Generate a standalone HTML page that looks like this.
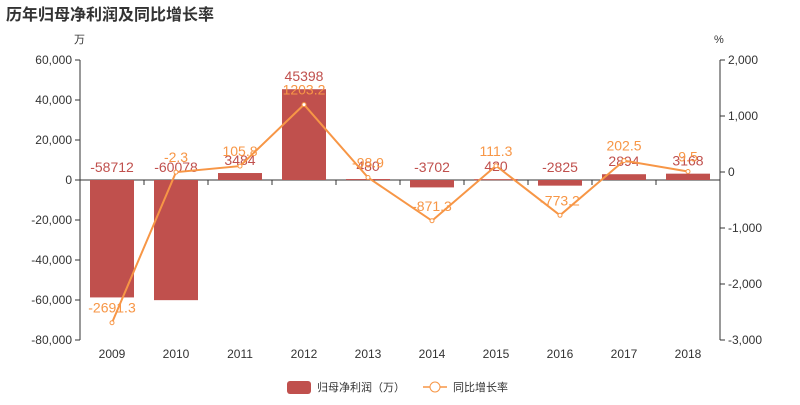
<!DOCTYPE html>
<html><head><meta charset="utf-8"><style>
body{margin:0;background:#fff;font-family:"Liberation Sans","Noto Sans CJK SC",sans-serif}
svg text{font-family:"Liberation Sans","Noto Sans CJK SC",sans-serif}
</style></head><body>
<svg id="c" width="800" height="400" xmlns="http://www.w3.org/2000/svg">
<text x="6" y="20" font-size="16" font-weight="bold" fill="#333">历年归母净利润及同比增长率</text>
<text x="74" y="43" font-size="11" fill="#333">万</text>
<text x="714" y="43" font-size="11" fill="#333">%</text>
<g id="g"></g>
<g>
<rect x="287" y="381" width="24" height="13" rx="3" fill="#c0504d"/>
<text x="317" y="391" font-size="11" fill="#333">归母净利润（万）</text>
<line x1="423" y1="387" x2="447" y2="387" stroke="#f79646" stroke-width="1.5"/>
<circle cx="435" cy="387" r="5" fill="#fff" stroke="#f79646"/>
<text x="453" y="391" font-size="11" fill="#333">同比增长率</text>
</g>
</svg>
<script>
const categories=["2009","2010","2011","2012","2013","2014","2015","2016","2017","2018"];
const profit=[-58712,-60078,3484,45398,480,-3702,420,-2825,2894,3168];
const growth=[-2691.3,-2.3,105.8,1203.2,-98.9,-871.3,111.3,-773.2,202.5,9.5];
const leftTicks=[60000,40000,20000,0,-20000,-40000,-60000,-80000];
const rightTicks=[2000,1000,0,-1000,-2000,-3000];
const NS="http://www.w3.org/2000/svg",g=document.getElementById('g');
const X0=80,X1=720,T=60,B=340,bw=(X1-X0)/categories.length;
const yL=v=>T+(60000-v)/140000*(B-T);
const yR=v=>T+(2000-v)/5000*(B-T);
const xC=i=>X0+bw*(i+0.5);
function el(t,a,txt){const e=document.createElementNS(NS,t);for(const k in a)e.setAttribute(k,a[k]);if(txt!==undefined)e.textContent=txt;g.appendChild(e);return e;}
function fmt(v){return v===0?"0":v.toLocaleString('en-US');}
let e;
e=el('line',{x1:X0,y1:T,x2:X0,y2:B,stroke:'#333'});


e=el('line',{x1:X1,y1:T,x2:X1,y2:B,stroke:'#333'});


leftTicks.forEach(v=>{
 e=el('line',{x1:X0-5,y1:yL(v),x2:X0,y2:yL(v),stroke:'#333'});
 
 
 e=el('text',{x:X0-8,y:yL(v)+4,'text-anchor':'end','font-size':12,fill:'#333'},fmt(v));
 
 
});
rightTicks.forEach(v=>{
 e=el('line',{x1:X1,y1:yR(v),x2:X1+5,y2:yR(v),stroke:'#333'});
 
 
 e=el('text',{x:X1+8,y:yR(v)+4,'font-size':12,fill:'#333'},fmt(v));
 
 
});
e=el('line',{x1:X0,y1:yL(0),x2:X1,y2:yL(0),stroke:'#333'});


for(let i=0;i<=categories.length;i++){
 e=el('line',{x1:X0+bw*i,y1:yL(0),x2:X0+bw*i,y2:yL(0)+5,stroke:'#333'});
 
 
}
categories.forEach((c,i)=>{
 e=el('text',{x:xC(i),y:B+18,'text-anchor':'middle','font-size':12,fill:'#333'},c);
 
 
});
profit.forEach((v,i)=>{
 const y1=yL(Math.max(v,0)),y2=yL(Math.min(v,0));
 e=el('rect',{x:xC(i)-22,y:y1,width:44,height:Math.max(y2-y1,1),fill:'#c0504d'});
 
 
});
profit.forEach((v,i)=>{
 e=el('text',{x:xC(i),y:Math.min(yL(v),yL(0))-8,'text-anchor':'middle','font-size':14,fill:'#c0504d'},String(v));
 
 
});
e=el('polyline',{points:growth.map((v,i)=>xC(i)+','+yR(v)).join(' '),fill:'none',stroke:'#f79646','stroke-width':2});


growth.forEach((v,i)=>{
 e=el('circle',{cx:xC(i),cy:yR(v),r:2,fill:'#fff',stroke:'#f79646'});
 
 
 e=el('text',{x:xC(i),y:yR(v)-10,'text-anchor':'middle','font-size':14,fill:'#f79646'},String(v));
 
 
});
</script>
</body></html>
